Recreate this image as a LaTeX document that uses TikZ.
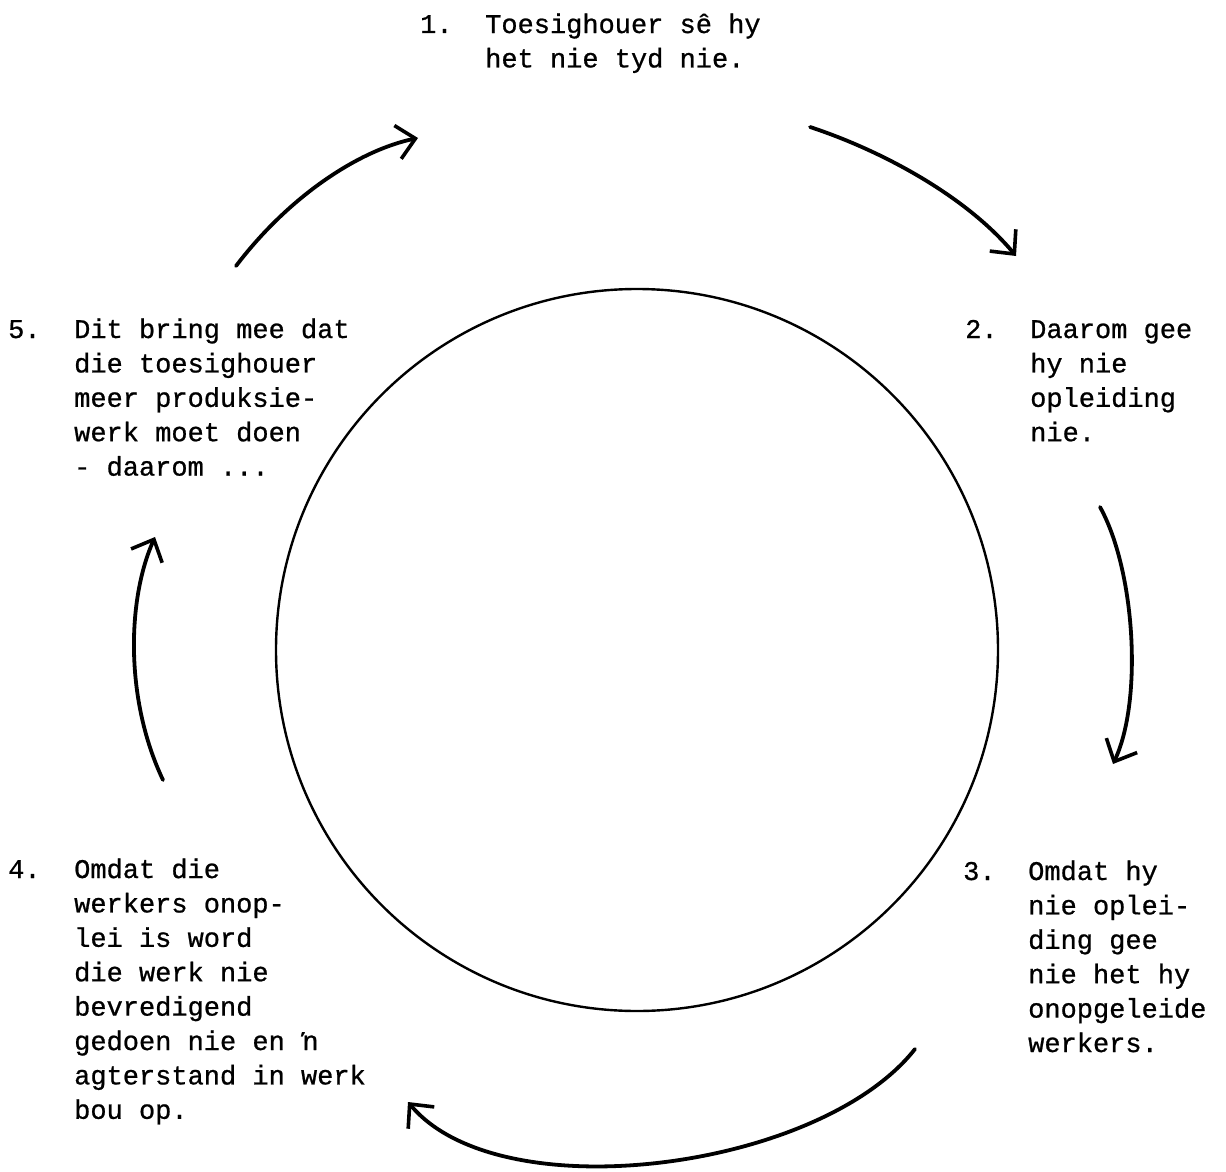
\documentclass[tikz,border=0pt]{standalone}
\usepackage{fontspec}
\setmonofont[FakeBold=0.8]{Liberation Mono}
\usetikzlibrary{arrows.meta}
\begin{document}
\begin{tikzpicture}[x=1pt,y=-1pt,
  lbl/.style={font=\ttfamily\fontsize{27}{34.4}\selectfont, anchor=base west, inner sep=0pt, align=left},
  ring/.style={line width=2.4pt},
  cyc/.style={line width=3.8pt, line cap=round, -{Straight Barb[length=18pt,width=34pt,line width=3.6pt]}}]
\useasboundingbox (0,0) rectangle (1226,1172);
% circle
\draw[ring] (637,650) circle [radius=361];
% texts (multi-line nodes are anchored at the baseline of their last line)
\node[lbl] (n1) at (420,33) {1.};
\node[lbl] (t1) at (485,67.4) {Toesighouer sê hy\\het nie tyd nie.};
\node[lbl] (n2) at (965,338) {2.};
\node[lbl] (t2) at (1030,441.2) {Daarom gee\\hy nie\\opleiding\\nie.};
\node[lbl] (n3) at (963,880) {3.};
\node[lbl] (t3) at (1028,1052) {Omdat hy\\nie oplei-\\ding gee\\nie het hy\\onopgeleide\\werkers.};
\node[lbl] (n4) at (8,878) {4.};
\node[lbl] (t4) at (74,1118.8) {Omdat die\\werkers onop-\\lei is word\\die werk nie\\bevredigend\\gedoen nie en ŉ\\agterstand in werk\\bou op.};
\node[lbl] (n5) at (8,338) {5.};
\node[lbl] (t5) at (74,475.6) {Dit bring mee dat\\die toesighouer\\meer produksie-\\werk moet doen\\- daarom ...};
% arrow end points
\coordinate (a1s) at (236,266);
\coordinate (a1e) at (418,138);
\coordinate (a2s) at (810,127);
\coordinate (a2e) at (1016,256);
\coordinate (a3s) at (1100,507);
\coordinate (a3e) at (1113,764);
\coordinate (a4s) at (915,1049);
\coordinate (a4e) at (408,1102);
\coordinate (a5s) at (163,780);
\coordinate (a5e) at (155,537);
% arrows
\draw[cyc] (a1s) .. controls (290,195) and (360,150) .. (a1e);
\draw[cyc] (a2s) .. controls (880,150) and (965,195) .. (a2e);
\draw[cyc] (a3s) .. controls (1135,570) and (1143,700) .. (a3e);
\draw[cyc] (a4s) .. controls (820,1170) and (500,1212) .. (a4e);
\draw[cyc] (a5s) .. controls (125,700) and (127,600) .. (a5e);
\end{tikzpicture}
\end{document}
